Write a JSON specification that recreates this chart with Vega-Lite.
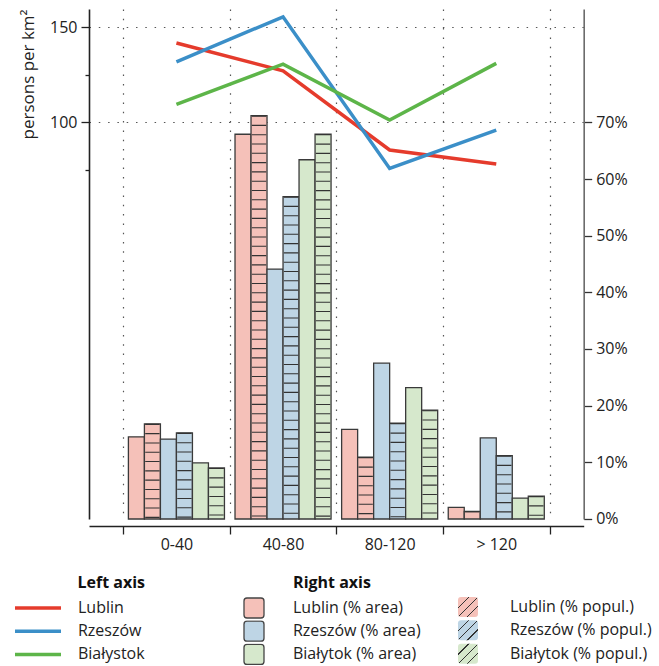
{
  "$schema": "https://vega.github.io/schema/vega-lite/v6.json",
  "width": 494.7,
  "height": 510,
  "autosize": {"type": "pad"},
  "padding": {"left": 13, "top": 8, "right": 0, "bottom": 0},
  "config": {
    "font": "Open Sans",
    "view": {"stroke": null},
    "axis": {"labelFont": "Open Sans", "titleFont": "Open Sans", "labelColor": "#222", "titleColor": "#222"},
    "legend": {"labelFont": "Open Sans", "titleFont": "Open Sans", "labelColor": "#222", "titleColor": "#111"}
  },
  "datasets": {
    "bars": [
      {"group": "0-40", "series": "Lublin (% area)", "pct": 14.5},
      {"group": "0-40", "series": "Lublin (% popul.)", "pct": 16.8},
      {"group": "0-40", "series": "Rzeszów (% area)", "pct": 14.1},
      {"group": "0-40", "series": "Rzeszów (% popul.)", "pct": 15.2},
      {"group": "0-40", "series": "Białytok (% area)", "pct": 9.9},
      {"group": "0-40", "series": "Białytok (% popul.)", "pct": 9.0},
      {"group": "40-80", "series": "Lublin (% area)", "pct": 67.9},
      {"group": "40-80", "series": "Lublin (% popul.)", "pct": 71.2},
      {"group": "40-80", "series": "Rzeszów (% area)", "pct": 44.1},
      {"group": "40-80", "series": "Rzeszów (% popul.)", "pct": 56.9},
      {"group": "40-80", "series": "Białytok (% area)", "pct": 63.4},
      {"group": "40-80", "series": "Białytok (% popul.)", "pct": 67.9},
      {"group": "80-120", "series": "Lublin (% area)", "pct": 15.8},
      {"group": "80-120", "series": "Lublin (% popul.)", "pct": 10.9},
      {"group": "80-120", "series": "Rzeszów (% area)", "pct": 27.5},
      {"group": "80-120", "series": "Rzeszów (% popul.)", "pct": 16.9},
      {"group": "80-120", "series": "Białytok (% area)", "pct": 23.2},
      {"group": "80-120", "series": "Białytok (% popul.)", "pct": 19.2},
      {"group": "> 120", "series": "Lublin (% area)", "pct": 2.05},
      {"group": "> 120", "series": "Lublin (% popul.)", "pct": 1.35},
      {"group": "> 120", "series": "Rzeszów (% area)", "pct": 14.3},
      {"group": "> 120", "series": "Rzeszów (% popul.)", "pct": 11.2},
      {"group": "> 120", "series": "Białytok (% area)", "pct": 3.7},
      {"group": "> 120", "series": "Białytok (% popul.)", "pct": 4.05}
    ],
    "lines": [
      {"group": "0-40", "city": "Lublin", "density": 141.8},
      {"group": "40-80", "city": "Lublin", "density": 127.2},
      {"group": "80-120", "city": "Lublin", "density": 85.5},
      {"group": "> 120", "city": "Lublin", "density": 78.1},
      {"group": "0-40", "city": "Rzeszów", "density": 131.9},
      {"group": "40-80", "city": "Rzeszów", "density": 155.6},
      {"group": "80-120", "city": "Rzeszów", "density": 75.8},
      {"group": "> 120", "city": "Rzeszów", "density": 96.0},
      {"group": "0-40", "city": "Białystok", "density": 109.5},
      {"group": "40-80", "city": "Białystok", "density": 130.7},
      {"group": "80-120", "city": "Białystok", "density": 101.3},
      {"group": "> 120", "city": "Białystok", "density": 131.1}
    ]
  },
  "layer": [
    {
      "data": {"name": "bars"},
      "layer": [
        {
          "mark": {"type": "bar", "stroke": "#3a3a3a", "strokeWidth": 1.3},
          "encoding": {
            "x": {
              "field": "group", "type": "nominal",
              "sort": ["0-40", "40-80", "80-120", "> 120"],
              "scale": {"paddingInner": 0, "paddingOuter": 0.32},
              "axis": {
                "title": null, "orient": "bottom", "offset": 7, "tickBand": "extent",
                "grid": true, "gridDash": [1.5, 7.8], "gridColor": "#555", "gridWidth": 1.2,
                "domainColor": "#222", "domainWidth": 1.5, "tickColor": "#222", "tickSize": 8, "tickWidth": 1.3,
                "labelAngle": 0, "labelFontSize": 16, "labelPadding": 3
              }
            },
            "xOffset": {
              "field": "series", "type": "nominal",
              "sort": ["Lublin (% area)", "Lublin (% popul.)", "Rzeszów (% area)", "Rzeszów (% popul.)", "Białytok (% area)", "Białytok (% popul.)"],
              "scale": {"paddingInner": 0, "paddingOuter": 0.33}
            },
            "y": {
              "field": "pct", "type": "quantitative",
              "scale": {"domain": [0, 90], "nice": false, "zero": true},
              "axis": {
                "orient": "right", "title": null,
                "values": [0, 5, 10, 15, 20, 25, 30, 35, 40, 45, 50, 55, 60, 65, 70],
                "labelExpr": "datum.value % 10 === 0 ? datum.value + '%' : ''",
                "tickSize": {"condition": {"test": "datum.value % 10 === 0", "value": 8}, "value": 4},
                "tickColor": "#333", "tickWidth": 1.3,
                "grid": false, "domainColor": "#6b6b6b", "domainWidth": 1.6,
                "labelFontSize": 16, "labelPadding": 4
              }
            },
            "fill": {
              "field": "series", "type": "nominal",
              "scale": {
                "domain": ["Lublin (% area)", "Lublin (% popul.)", "Rzeszów (% area)", "Rzeszów (% popul.)", "Białytok (% area)", "Białytok (% popul.)"],
                "range": ["#f5c1b9", "#f5c1b9", "#bed5e5", "#bed5e5", "#d6e8cc", "#d6e8cc"]
              },
              "legend": {
                "title": "Right axis", "orient": "none", "direction": "vertical", "legendX": 154, "legendY": 566,
                "values": ["Lublin (% area)", "Rzeszów (% area)", "Białytok (% area)"],
                "rowPadding": 1.2, "clipHeight": 22,
                "symbolType": "M-0.7,-1H0.7Q1,-1 1,-0.7V0.7Q1,1 0.7,1H-0.7Q-1,1 -1,0.7V-0.7Q-1,-1 -0.7,-1Z",
                "symbolSize": 400, "symbolStrokeColor": "#444", "symbolStrokeWidth": 1.3, "symbolOpacity": 1,
                "labelFontSize": 16, "labelOffset": 28, "labelLimit": 400,
                "titleFontSize": 16, "titleFontWeight": "bold", "titlePadding": 6, "titleAnchor": "middle"
              }
            }
          }
        },
        {
          "transform": [{"filter": "indexof(datum.series, 'popul') >= 0"}],
          "mark": {"type": "rule", "stroke": "#333", "strokeWidth": 14.4, "strokeDash": [1.1, 8.2], "strokeCap": "butt"},
          "encoding": {
            "x": {"field": "group", "type": "nominal", "sort": ["0-40", "40-80", "80-120", "> 120"]},
            "xOffset": {"field": "series", "type": "nominal", "sort": ["Lublin (% area)", "Lublin (% popul.)", "Rzeszów (% area)", "Rzeszów (% popul.)", "Białytok (% area)", "Białytok (% popul.)"]},
            "y": {"field": "pct", "type": "quantitative"},
            "y2": {"datum": 0}
          }
        },
        {
          "transform": [{"filter": "datum.series === 'none'"}],
          "mark": {"type": "bar", "stroke": "#444", "strokeWidth": 1.3,
            "fill": {"gradient": "linear", "x1": 0, "y1": 0, "x2": 1, "y2": 1, "stops": [
              {"offset": 0, "color": "#f5c1b9"}, {"offset": 0.255, "color": "#f5c1b9"}, {"offset": 0.255, "color": "#333"}, {"offset": 0.29, "color": "#333"},
              {"offset": 0.29, "color": "#f5c1b9"}, {"offset": 0.483, "color": "#f5c1b9"}, {"offset": 0.483, "color": "#333"}, {"offset": 0.517, "color": "#333"},
              {"offset": 0.517, "color": "#f5c1b9"}, {"offset": 0.71, "color": "#f5c1b9"}, {"offset": 0.71, "color": "#333"}, {"offset": 0.745, "color": "#333"},
              {"offset": 0.745, "color": "#f5c1b9"}, {"offset": 1, "color": "#f5c1b9"}]}},
          "encoding": {
            "x": {"field": "group", "type": "nominal", "sort": ["0-40", "40-80", "80-120", "> 120"]},
            "y": {"field": "pct", "type": "quantitative"},
            "strokeDash": {
              "field": "series", "type": "nominal",
              "scale": {"domain": ["Lublin (% popul.)"], "range": [[1000, 0]]},
              "legend": {
                "title": null, "orient": "none", "direction": "vertical", "legendX": 368, "legendY": 587,
                "clipHeight": 22,
                "symbolType": "M-0.7,-1H0.7Q1,-1 1,-0.7V0.7Q1,1 0.7,1H-0.7Q-1,1 -1,0.7V-0.7Q-1,-1 -0.7,-1Z",
                "symbolSize": 400, "symbolStrokeColor": "#444", "symbolStrokeWidth": 1.3, "symbolOpacity": 1,
                "labelFontSize": 16, "labelOffset": 31, "labelLimit": 400,
                "encode": {"symbols": {"stroke": {"value": "#444"}, "strokeWidth": {"value": 1.3}, "strokeOpacity": {"value": 1}, "opacity": {"value": 1}, "fillOpacity": {"value": 1}}}
              }
            }
          }
        },
        {
          "transform": [{"filter": "datum.series === 'none'"}],
          "mark": {"type": "bar", "stroke": "#444", "strokeWidth": 1.3,
            "fill": {"gradient": "linear", "x1": 0, "y1": 0, "x2": 1, "y2": 1, "stops": [
              {"offset": 0, "color": "#bed5e5"}, {"offset": 0.255, "color": "#bed5e5"}, {"offset": 0.255, "color": "#333"}, {"offset": 0.29, "color": "#333"},
              {"offset": 0.29, "color": "#bed5e5"}, {"offset": 0.483, "color": "#bed5e5"}, {"offset": 0.483, "color": "#333"}, {"offset": 0.517, "color": "#333"},
              {"offset": 0.517, "color": "#bed5e5"}, {"offset": 0.71, "color": "#bed5e5"}, {"offset": 0.71, "color": "#333"}, {"offset": 0.745, "color": "#333"},
              {"offset": 0.745, "color": "#bed5e5"}, {"offset": 1, "color": "#bed5e5"}]}},
          "encoding": {
            "x": {"field": "group", "type": "nominal", "sort": ["0-40", "40-80", "80-120", "> 120"]},
            "y": {"field": "pct", "type": "quantitative"},
            "strokeDash": {
              "field": "series", "type": "nominal",
              "scale": {"domain": ["Rzeszów (% popul.)"], "range": [[1000, 0]]},
              "legend": {
                "title": null, "orient": "none", "direction": "vertical", "legendX": 368, "legendY": 610.3,
                "clipHeight": 22,
                "symbolType": "M-0.7,-1H0.7Q1,-1 1,-0.7V0.7Q1,1 0.7,1H-0.7Q-1,1 -1,0.7V-0.7Q-1,-1 -0.7,-1Z",
                "symbolSize": 400, "symbolStrokeColor": "#444", "symbolStrokeWidth": 1.3, "symbolOpacity": 1,
                "labelFontSize": 16, "labelOffset": 31, "labelLimit": 400,
                "encode": {"symbols": {"stroke": {"value": "#444"}, "strokeWidth": {"value": 1.3}, "strokeOpacity": {"value": 1}, "opacity": {"value": 1}, "fillOpacity": {"value": 1}}}
              }
            }
          }
        },
        {
          "transform": [{"filter": "datum.series === 'none'"}],
          "mark": {"type": "bar", "stroke": "#444", "strokeWidth": 1.3,
            "fill": {"gradient": "linear", "x1": 0, "y1": 0, "x2": 1, "y2": 1, "stops": [
              {"offset": 0, "color": "#d6e8cc"}, {"offset": 0.255, "color": "#d6e8cc"}, {"offset": 0.255, "color": "#333"}, {"offset": 0.29, "color": "#333"},
              {"offset": 0.29, "color": "#d6e8cc"}, {"offset": 0.483, "color": "#d6e8cc"}, {"offset": 0.483, "color": "#333"}, {"offset": 0.517, "color": "#333"},
              {"offset": 0.517, "color": "#d6e8cc"}, {"offset": 0.71, "color": "#d6e8cc"}, {"offset": 0.71, "color": "#333"}, {"offset": 0.745, "color": "#333"},
              {"offset": 0.745, "color": "#d6e8cc"}, {"offset": 1, "color": "#d6e8cc"}]}},
          "encoding": {
            "x": {"field": "group", "type": "nominal", "sort": ["0-40", "40-80", "80-120", "> 120"]},
            "y": {"field": "pct", "type": "quantitative"},
            "strokeDash": {
              "field": "series", "type": "nominal",
              "scale": {"domain": ["Białytok (% popul.)"], "range": [[1000, 0]]},
              "legend": {
                "title": null, "orient": "none", "direction": "vertical", "legendX": 368, "legendY": 633.7,
                "clipHeight": 22,
                "symbolType": "M-0.7,-1H0.7Q1,-1 1,-0.7V0.7Q1,1 0.7,1H-0.7Q-1,1 -1,0.7V-0.7Q-1,-1 -0.7,-1Z",
                "symbolSize": 400, "symbolStrokeColor": "#444", "symbolStrokeWidth": 1.3, "symbolOpacity": 1,
                "labelFontSize": 16, "labelOffset": 31, "labelLimit": 400,
                "encode": {"symbols": {"stroke": {"value": "#444"}, "strokeWidth": {"value": 1.3}, "strokeOpacity": {"value": 1}, "opacity": {"value": 1}, "fillOpacity": {"value": 1}}}
              }
            }
          }
        }
      ],
      "resolve": {"scale": {"strokeDash": "independent"}, "legend": {"strokeDash": "independent"}}
    },
    {
      "data": {"name": "lines"},
      "mark": {"type": "line", "strokeWidth": 3.5},
      "encoding": {
        "x": {"field": "group", "type": "nominal", "sort": ["0-40", "40-80", "80-120", "> 120"]},
        "y": {
          "field": "density", "type": "quantitative",
          "scale": {"domain": [-108.7, 159.7], "nice": false, "zero": false},
          "axis": {
            "orient": "left", "title": "persons per km²",
            "values": [75, 100, 125, 150],
            "labelExpr": "datum.value % 50 === 0 ? datum.label : ''",
            "tickSize": {"condition": {"test": "datum.value % 50 === 0", "value": 8}, "value": 4},
            "tickColor": "#222", "tickWidth": 1.3,
            "grid": true, "gridDash": [1.5, 7.8], "gridColor": "#555", "gridWidth": 1.2,
            "gridOpacity": {"condition": {"test": "datum.value % 50 === 0", "value": 1}, "value": 0},
            "domainColor": "#222", "domainWidth": 1.6,
            "labelFontSize": 16, "labelPadding": 4,
            "titleFontSize": 17, "titleFontWeight": "normal", "titleAnchor": "end", "titlePadding": 12
          }
        },
        "stroke": {
          "field": "city", "type": "nominal",
          "scale": {"domain": ["Lublin", "Rzeszów", "Białystok"], "range": ["#e53b2c", "#3b8fc8", "#5db549"]},
          "legend": {
            "title": "Left axis", "orient": "none", "direction": "vertical", "legendX": -76, "legendY": 566,
            "symbolType": "stroke", "symbolSize": 2116, "symbolStrokeWidth": 3.5,
            "rowPadding": 1.2, "clipHeight": 22,
            "labelFontSize": 16, "labelOffset": 15, "labelLimit": 300,
            "titleFontSize": 16, "titleFontWeight": "bold", "titlePadding": 6, "titleAnchor": "end"
          }
        }
      }
    }
  ],
  "resolve": {"scale": {"y": "independent"}, "axis": {"y": "independent"}}
}
